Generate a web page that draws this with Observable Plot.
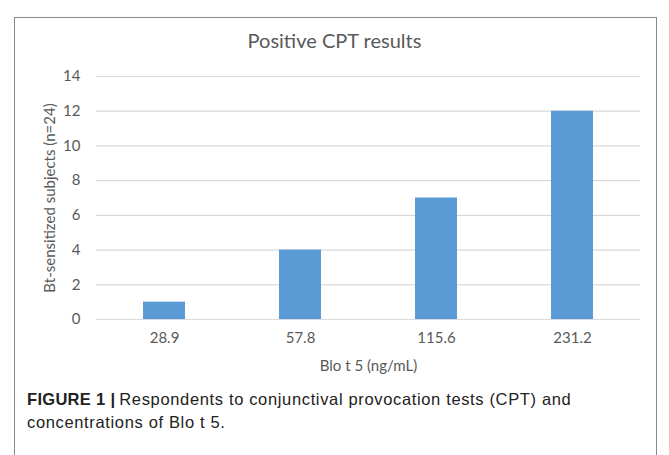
<!DOCTYPE html>
<html><head><meta charset="utf-8">
<script src="https://cdn.jsdelivr.net/npm/d3@7"></script>
<script src="https://cdn.jsdelivr.net/npm/@observablehq/plot@0.6"></script>
<style>
body{margin:0;background:#fff;width:669px;height:455px;overflow:hidden;position:relative;}
#frame{position:absolute;left:14px;top:17px;width:643px;height:460px;border:1.5px solid #8a8a8a;box-sizing:border-box;}
#title{position:absolute;left:0;width:669px;top:28px;text-align:center;font-family:Lato,sans-serif;font-size:20px;color:#595959;}
#chart{position:absolute;left:0;top:0;}
#caption{position:absolute;left:27px;top:388px;width:600px;font-family:"Liberation Sans",Arial,sans-serif;font-size:16.5px;letter-spacing:0.65px;line-height:23px;color:#222;white-space:nowrap;}
#caption b{font-weight:bold;letter-spacing:0.3px;margin-right:4px;}
</style></head>
<body>
<div id="frame"></div>
<div id="chart"></div>
<div id="title">Positive CPT results</div>
<div id="caption"><div><b>FIGURE 1 |</b><span>Respondents to conjunctival provocation tests (CPT) and</span></div><div>concentrations of Blo t 5.</div></div>
<script>
const concentrations = ["28.9", "57.8", "115.6", "231.2"];
const subjects = [1, 4, 7, 12];
const yTicks = [0, 2, 4, 6, 8, 10, 12, 14];
const data = concentrations.map((c, i) => ({c, v: subjects[i]}));

const plot = Plot.plot({
  width: 669,
  height: 380,
  marginLeft: 96,
  marginRight: 29,
  marginTop: 76,
  marginBottom: 61,
  style: {fontFamily: "Lato, sans-serif", fontSize: "14px", color: "#595959", background: "transparent"},
  x: {domain: concentrations, paddingInner: 0.69, paddingOuter: 0.345, label: null},
  y: {domain: [0, 14], ticks: yTicks, label: null},
  marks: [
    Plot.gridY(yTicks, {stroke: "#d9d9d9", strokeOpacity: 1, strokeWidth: 1.2}),
    Plot.barY(data, {x: "c", y: "v", fill: "#5b9bd5"}),
    Plot.ruleY([0], {stroke: "#d9d9d9", strokeWidth: 1.2}),
    Plot.axisY({ticks: yTicks, tickSize: 0, tickPadding: 16, label: "Bt-sensitized subjects (n=24)", labelAnchor: "center", labelArrow: "none", labelOffset: 52, fontSize: 14}),
    Plot.axisX({tickSize: 0, tickPadding: 13, label: "Blo t 5 (ng/mL)", labelAnchor: "center", labelArrow: "none", labelOffset: 51, fontSize: 14})
  ]
});
plot.querySelectorAll("[aria-label$='label'] text").forEach(t => t.setAttribute("font-size", "15"));
document.getElementById("chart").appendChild(plot);
</script>
</body></html>
